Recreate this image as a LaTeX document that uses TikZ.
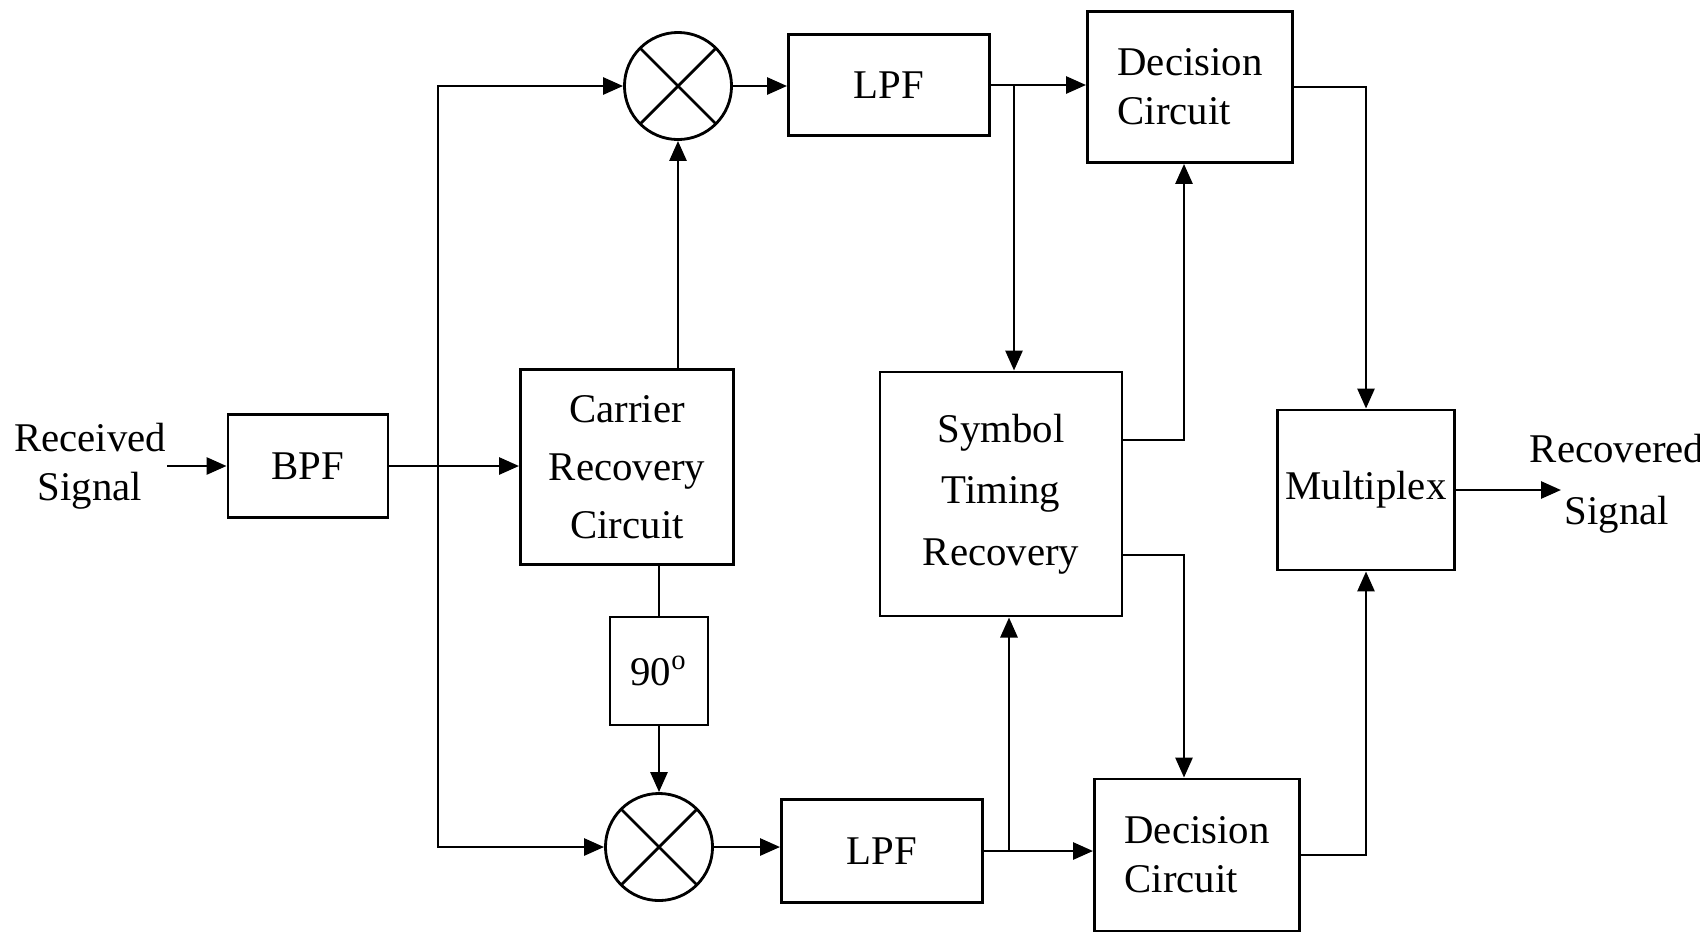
\documentclass[tikz,border=0pt]{standalone}
\usepackage{fontspec}
\setmainfont{Liberation Serif}
\usepackage{tikz}
\usetikzlibrary{arrows.meta,positioning}
\tikzset{
  block/.style={rectangle, draw, line width=0.8pt, align=center, inner sep=2pt},
  mixer/.style={circle, draw, line width=0.8pt, minimum size=1.07cm, inner sep=0pt,
                path picture={\draw[line width=0.8pt] (path picture bounding box.north west) -- (path picture bounding box.south east)
                  (path picture bounding box.north east) -- (path picture bounding box.south west);}},
  label/.style={align=center, inner sep=0pt},
  arrow/.style={->, line width=0.8pt},
}

\begin{document}
\begin{tikzpicture}[x=0.01cm, y=-0.01cm, >={Triangle[length=2mm,width=1.7mm]},
  font=\fontsize{11.6}{14}\selectfont, line width=0.8pt]
\useasboundingbox (0,0) rectangle (1700,933);

% Front end
\node[label] (rx) at (90,466) {Received\\Signal};
\node[block, minimum width=1.6cm, minimum height=1.03cm] (bpf) at (308,466) {BPF};
\node[block, minimum width=2.13cm, minimum height=1.95cm] (carrier) at (627,467) {Carrier\\[2.5pt] Recovery\\[2.5pt] Circuit};
\node[block, minimum width=0.98cm, minimum height=1.08cm] (shift) at (659,671) {90\textsuperscript{o}};
\coordinate (split) at (438,466);

% I and Q branches
\node[mixer] (mixi) at (678,86) {};
\node[mixer] (mixq) at (659,847) {};
\node[block, minimum width=2.01cm, minimum height=1.01cm] (lpfi) at (889,85) {LPF};
\node[block, minimum width=2.01cm, minimum height=1.03cm] (lpfq) at (882,851) {LPF};
\node[block, align=left, minimum width=2.05cm, minimum height=1.51cm] (deci) at (1190,87) {Decision\\Circuit};
\node[block, align=left, minimum width=2.05cm, minimum height=1.52cm] (decq) at (1197,855) {Decision\\Circuit};

% Timing and output
\node[block, minimum width=2.42cm, minimum height=2.44cm] (timing) at (1001,494) {Symbol\\[3.5pt] Timing\\[3.5pt] Recovery};
\node[block, minimum width=1.77cm, minimum height=1.6cm] (mux) at (1366,490) {Multiplex};
\node[label] (out) at (1617,484) {Recovered\\[3.7pt] Signal};
\coordinate (tapi) at (1014,85);
\coordinate (tapq) at (1009,851);
\coordinate (ji) at (1184,440);
\coordinate (jq) at (1184,555);
\coordinate (recv) at (1561,490);

% Arrows
\draw[->] (rx.east) -- (rx.east -| bpf.west);
\draw[->] (bpf.east) -- (bpf.east -| carrier.west);
\draw[->] (split) |- (mixi);
\draw[->] (split) |- (mixq);
\draw[->] (mixi |- carrier.north) -- (mixi.south);
\draw (shift |- carrier.south) -- (shift.north);
\draw[->] (shift.south) -- (mixq.north);
\draw[->] (mixi.east) -- (mixi.east -| lpfi.west);
\draw[->] (mixq.east) -- (mixq.east -| lpfq.west);
\draw[->] (lpfi.east) -- (lpfi.east -| deci.west);
\draw[->] (lpfq.east) -- (lpfq.east -| decq.west);
\draw[->] (tapi) -- (tapi |- timing.north);
\draw[->] (tapq) -- (tapq |- timing.south);
\draw[->] (timing.east |- ji) -- (ji) -- (ji |- deci.south);
\draw[->] (timing.east |- jq) -- (jq) -- (jq |- decq.north);
\draw[->] (deci.east) -| (mux.north);
\draw[->] (decq.east) -| (mux.south);
\draw[->] (mux) -- (recv);

\end{tikzpicture}
\end{document}
